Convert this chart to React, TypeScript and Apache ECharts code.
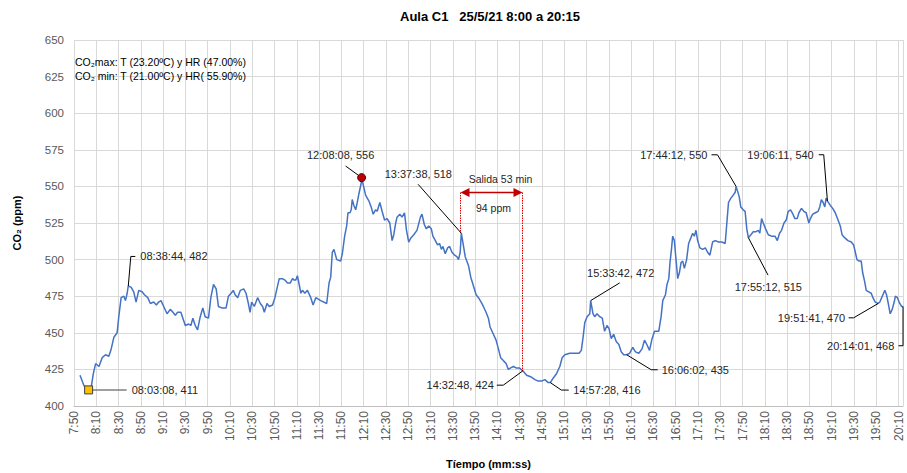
import React, { useEffect, useRef } from "react";
import * as echarts from "echarts";

// Minutes elapsed since 7:50 (axis origin) and CO2 readings (ppm)
const elapsedMin = [
  5.4, 8.9, 11.3, 13.1, 15.5, 17.3, 19.4, 22.4, 25.3, 28.3, 31.3, 33.4, 35.8, 38.7, 40.2, 42.3, 44.7, 46.2, 47.7, 48.7,
  51.3, 53.6, 55.7, 58.1, 61.1, 63.2, 66.2, 68.5, 71.5, 73.9, 76.0, 78.1, 80.5, 83.5, 86.4, 88.8, 90.9, 93.0, 95.9, 97.7,
  99.9, 102.8, 104.9, 106.7, 108.8, 110.9, 113.3, 115.6, 117.7, 120.7, 122.8, 125.2, 127.6, 129.6, 132.6, 136.5, 138.6, 141.0, 143.0, 144.6,
  146.9, 149.3, 152.3, 154.4, 156.5, 158.0, 159.4, 161.8, 164.8, 167.2, 169.3, 170.8, 173.2, 175.2, 178.2, 180.3, 182.1, 184.2, 187.1, 189.3,
  191.6, 194.0, 196.1, 197.6, 199.1, 200.5, 202.1, 203.6, 205.0, 207.2, 209.5, 212.5, 214.6, 217.0, 221.4, 226.8, 228.9, 230.4, 231.8, 233.3,
  235.8, 239.3, 240.8, 242.9, 244.7, 245.9, 247.7, 248.8, 249.7, 251.2, 252.8, 254.2, 255.7, 257.7, 258.1, 260.2, 261.7, 264.7, 266.7, 268.5,
  270.6, 272.1, 274.5, 276.5, 278.7, 281.0, 283.4, 285.5, 287.0, 288.5, 289.9, 292.4, 294.4, 296.6, 298.4, 300.4, 302.5, 304.9, 307.8, 310.9,
  312.3, 314.4, 316.2, 318.3, 320.7, 322.1, 324.3, 326.3, 328.1, 329.7, 331.1, 333.2, 335.3, 337.1, 339.2, 341.6, 343.6, 345.1, 346.6, 347.6,
  349.6, 351.1, 354.0, 356.1, 358.5, 360.9, 363.0, 365.4, 367.4, 369.8, 371.9, 373.4, 376.4, 378.8, 380.9, 382.9, 385.3, 387.8, 389.8, 391.9,
  394.3, 396.7, 399.6, 402.8, 406.2, 409.8, 413.7, 416.6, 419.6, 422.6, 425.6, 427.5, 430.0, 433.0, 436.0, 438.1, 440.5, 444.9, 449.4, 453.3,
  455.3, 456.9, 458.4, 460.5, 462.9, 463.7, 465.8, 467.3, 469.4, 471.8, 474.1, 476.2, 478.3, 480.1, 482.2, 484.3, 486.6, 489.0, 491.1, 493.3,
  496.0, 498.6, 501.5, 503.9, 506.9, 509.8, 512.0, 514.1, 516.5, 518.8, 521.0, 524.8, 526.9, 528.4, 530.8, 532.2, 533.8, 534.9, 536.2, 537.3,
  538.8, 540.3, 541.8, 543.3, 544.8, 546.3, 547.8, 549.8, 551.6, 553.7, 555.2, 556.7, 558.2, 559.7, 561.7, 564.2, 566.6, 568.6, 570.7, 573.1,
  575.5, 578.5, 581.4, 584.4, 585.9, 587.4, 589.5, 591.6, 593.4, 594.2, 597.0, 598.4, 600.6, 602.3, 603.8, 605.2, 607.5, 609.6, 611.7, 614.1,
  615.5, 617.1, 618.6, 620.7, 623.1, 626.0, 629.1, 631.2, 633.2, 635.0, 637.2, 639.2, 641.0, 643.1, 645.2, 647.0, 649.1, 650.6, 652.9, 655.0,
  657.1, 659.5, 660.9, 663.0, 665.4, 667.8, 669.3, 670.7, 672.3, 673.8, 675.0, 676.2, 678.8, 680.9, 683.2, 685.7, 687.7, 689.3, 691.6, 694.6,
  697.6, 699.7, 701.2, 702.7, 704.7, 706.5, 707.8, 709.6, 711.0, 713.2, 715.5, 717.0, 719.1, 721.7, 723.2, 725.4, 727.7, 729.2, 730.8, 732.5,
  734.3, 736.1, 737.2, 739.0, 740.5, 742.7, 744.0,
];
const co2ppm = [
  421, 414, 412, 411, 413, 422, 429, 427, 433, 435, 434, 439, 447, 450, 461, 474, 475, 472, 477, 482,
  481, 478, 471, 479, 478, 476, 474, 470, 471, 469, 471, 472, 468, 463, 466, 464, 462, 464, 464, 460,
  455, 456, 455, 460, 455, 452, 461, 467, 461, 460, 474, 483, 480, 468, 467, 467, 475, 477, 479, 476,
  474, 479, 480, 477, 470, 464, 471, 468, 474, 470, 468, 464, 470, 468, 469, 474, 480, 487, 487, 486,
  484, 484, 487, 486, 486, 489, 483, 477, 479, 477, 479, 474, 469, 474, 472, 470, 484, 488, 505, 507,
  500, 499, 504, 516, 523, 532, 532, 534, 541, 537, 534, 539, 545, 552, 556, 549, 544, 540, 536, 531,
  534, 533, 539, 533, 527, 528, 525, 513, 517, 524, 529, 531, 529, 532, 520, 512, 515, 517, 520, 529,
  531, 524, 521, 523, 521, 516, 513, 510, 511, 507, 509, 504, 508, 509, 505, 503, 502, 500, 505, 518,
  509, 502, 496, 488, 482, 476, 474, 471, 468, 464, 460, 454, 449, 445, 439, 433, 431, 429, 425, 426,
  427, 426, 426, 424, 421, 420, 418, 417, 417, 418, 416, 416, 419, 422, 427, 433, 435, 436, 436, 436,
  438, 447, 457, 461, 463, 472, 463, 461, 463, 461, 460, 451, 455, 453, 446, 449, 444, 442, 437, 435,
  435, 436, 440, 437, 436, 439, 445, 442, 438, 446, 451, 451, 461, 472, 476, 483, 487, 498, 507, 516,
  513, 500, 487, 491, 498, 499, 494, 500, 511, 515, 518, 516, 520, 513, 508, 507, 508, 505, 503, 512,
  513, 512, 512, 511, 525, 539, 542, 544, 546, 550, 543, 536, 534, 533, 521, 515, 517, 519, 519, 520,
  518, 528, 525, 521, 517, 516, 516, 513, 518, 520, 525, 527, 533, 534, 531, 528, 528, 532, 535, 533,
  532, 525, 528, 531, 532, 533, 536, 541, 539, 536, 542, 540, 537, 535, 532, 527, 523, 517, 515, 513,
  512, 510, 505, 500, 499, 499, 491, 485, 479, 478, 477, 474, 471, 470, 471, 475, 479, 476, 470, 463,
  466, 471, 475, 474, 471, 468, 468,
];

// Axis ticks: every 20 minutes starting at 7:50
const axisStartClockMin = 7 * 60 + 50;
const axisEndElapsed = 744;
const tickStepMin = 20;
const yTicks = { min: 400, max: 650, step: 25 };

// Annotated readings
const annotationTimes = [
  "08:03:08", "08:38:44", "12:08:08", "13:37:38", "14:32:48", "14:57:28", "15:33:42",
  "16:06:02", "17:44:12", "17:55:12", "19:06:11", "19:51:41", "20:14:01",
];
const annotationValues = [411, 482, 556, 518, 424, 416, 472, 435, 550, 515, 540, 470, 468];

const titleText = "Aula C1\u00a0\u00a0\u00a025/5/21 8:00 a 20:15";
const infoLines = ["CO₂max: T (23.20ºC) y HR (47.00%)", "CO₂ min: T (21.00ºC) y HR( 55.90%)"];
const exitLabel = "Salida 53 min";
const exitDelta = "94 ppm";

// Leader layouts (pixel offsets from the annotated point), text anchor and alignment
const leaderLayouts: { pts: number[][]; tx: number; ty: number; align: string }[] = [
  { pts: [[0, 0], [38, 0]], tx: 43, ty: 0, align: "left" },
  { pts: [[0, 0], [2.5, -29.5], [7, -29.5]], tx: 12, ty: -29.5, align: "left" },
  { pts: [[0, 0], [-16, -11.6]], tx: -21, ty: -23, align: "center" },
  { pts: [[0, 0], [-43.3, -49]], tx: -43, ty: -59, align: "center" },
  { pts: [[0, 0], [-19.5, 14.3], [-26, 14.3]], tx: -29, ty: 14.3, align: "right" },
  { pts: [[0, 0], [11, 7.5], [18.4, 7.5]], tx: 23, ty: 7.5, align: "left" },
  { pts: [[0, 0], [29, -17.7]], tx: 30, ty: -28, align: "center" },
  { pts: [[0, 0], [24.5, 15], [31, 15]], tx: 35, ty: 15.5, align: "left" },
  { pts: [[0, 0], [-18.6, -31.6], [-24.6, -31.6]], tx: -28.6, ty: -31.6, align: "right" },
  { pts: [[0, 0], [19.7, 37.5]], tx: 20, ty: 49.8, align: "center" },
  { pts: [[0, 0], [-3.7, -46.3], [-8.7, -46.3]], tx: -13.7, ty: -46.3, align: "right" },
  { pts: [[0, 0], [-24.5, 14.3], [-29.5, 14.3]], tx: -33, ty: 14.3, align: "right" },
  { pts: [[0, 0], [0, 39.3], [-4.5, 39.3]], tx: -8.7, ty: 39.3, align: "right" },
];

const FONT = "'Liberation Sans', Arial, sans-serif";
const LINE_BLUE = "#4472C4";
const GRID_GRAY = "#d9d9d9";
const LABEL_GRAY = "#595959";
const DARK_RED = "#C00000";
const BRIGHT_RED = "#E00000";

function clockToElapsed(s: string): number {
  const [h, m, sec] = s.split(":").map(Number);
  return h * 60 + m + sec / 60 - axisStartClockMin;
}

function formatTick(v: number): string {
  const r = Math.round(v);
  if (r % tickStepMin !== 0) return "";
  const m = r + axisStartClockMin;
  return `${Math.floor(m / 60)}:${String(m % 60).padStart(2, "0")}`;
}

export default function App() {
  const ref = useRef<HTMLDivElement>(null);
  useEffect(() => {
    if (!ref.current) return;
    const chart = echarts.init(ref.current, null, { renderer: "svg" });
    const seriesData = elapsedMin.map((t, i) => [t, co2ppm[i]]);
    chart.setOption({
      animation: false,
      backgroundColor: "#ffffff",
      title: {
        text: titleText,
        left: 490,
        top: 10,
        textAlign: "center",
        padding: 0,
        textStyle: { fontFamily: FONT, fontSize: 13, fontWeight: "bold", color: "#000" },
      },
      grid: { left: 74, top: 40, width: 829, height: 366, containLabel: false, outerBoundsMode: "none" },
      xAxis: {
        type: "value",
        min: 0,
        max: axisEndElapsed,
        interval: tickStepMin,
        name: "Tíempo (mm:ss)",
        nameLocation: "middle",
        nameGap: 52,
        nameMoveOverlap: false,
        nameTextStyle: { fontFamily: FONT, fontSize: 11, fontWeight: "bold", color: "#000" },
        axisLine: { show: true, lineStyle: { color: "#bfbfbf", width: 1 } },
        axisTick: { show: false },
        splitLine: { show: true, lineStyle: { color: GRID_GRAY, width: 1 } },
        axisLabel: {
          rotate: 90,
          margin: 5,
          formatter: formatTick,
          color: LABEL_GRAY,
          fontFamily: FONT,
          fontSize: 12,
          lineHeight: 10,
          showMaxLabel: false,
        },
      },
      yAxis: {
        type: "value",
        min: yTicks.min,
        max: yTicks.max,
        interval: yTicks.step,
        name: "CO₂ (ppm)",
        nameLocation: "middle",
        nameGap: 52,
        nameMoveOverlap: false,
        nameTextStyle: { fontFamily: FONT, fontSize: 11, fontWeight: "bold", color: "#000" },
        axisLine: { show: false },
        axisTick: { show: false },
        splitLine: { show: true, lineStyle: { color: GRID_GRAY, width: 1 } },
        axisLabel: { margin: 10, color: LABEL_GRAY, fontFamily: FONT, fontSize: 11.5 },
      },
      series: [
        {
          type: "line",
          data: seriesData,
          showSymbol: false,
          symbol: "none",
          lineStyle: { color: LINE_BLUE, width: 1.5 },
          clip: false,
        },
      ],
    });

    const toPx = (t: number, v: number) =>
      chart.convertToPixel({ xAxisIndex: 0, yAxisIndex: 0 }, [t, v]) as number[];

    const els: any[] = [];
    const pts = annotationTimes.map((s, i) => toPx(clockToElapsed(s), annotationValues[i]));

    annotationTimes.forEach((s, i) => {
      const [px, py] = pts[i];
      const lay = leaderLayouts[i];
      const isFirst = i === 0;
      els.push({
        type: "polyline",
        shape: { points: lay.pts.map(([dx, dy]) => [px + dx, py + dy]) },
        style: { stroke: isFirst ? "#7f7f7f" : "#000", lineWidth: isFirst ? 1.5 : 1, fill: null },
        z: 10,
      });
      els.push({
        type: "text",
        x: px + lay.tx,
        y: py + lay.ty,
        style: {
          text: `${s}, ${annotationValues[i]}`,
          fill: "#262626",
          fontFamily: FONT,
          fontSize: 11,
          align: lay.align,
          verticalAlign: "middle",
        },
        z: 10,
      });
    });

    // min marker (square) and max marker (dot)
    const [mx, my] = pts[0];
    els.push({
      type: "rect",
      shape: { x: mx - 4, y: my - 4, width: 8, height: 8 },
      style: { fill: "#FFC000", stroke: "#3f3f3f", lineWidth: 1 },
      z: 12,
    });
    const [Mx, My] = pts[2];
    els.push({
      type: "circle",
      shape: { cx: Mx, cy: My, r: 4 },
      style: { fill: DARK_RED, stroke: "#4d0000", lineWidth: 1 },
      z: 12,
    });

    // Exit interval bracket between 13:37:38 and 14:32:48
    const [lx0, ly] = pts[3];
    const [rx0, ry] = pts[4];
    const lx = Math.round(lx0 - 1.5) + 0.5;
    const rx = Math.round(rx0 - 0.5) + 0.5;
    const ay = Math.round(ly - 41) + 0.5;
    els.push({
      type: "line",
      shape: { x1: lx, y1: ay, x2: lx, y2: ly },
      style: { stroke: BRIGHT_RED, lineWidth: 1, lineDash: [1.5, 1] },
      z: 9,
    });
    els.push({
      type: "line",
      shape: { x1: rx, y1: ay, x2: rx, y2: ry },
      style: { stroke: BRIGHT_RED, lineWidth: 1, lineDash: [1.5, 1] },
      z: 9,
    });
    els.push({
      type: "line",
      shape: { x1: lx + 6, y1: ay, x2: rx - 7, y2: ay },
      style: { stroke: DARK_RED, lineWidth: 1.5 },
      z: 11,
    });
    els.push({
      type: "polygon",
      shape: { points: [[lx, ay], [lx + 9, ay - 4.5], [lx + 9, ay + 4.5]] },
      style: { fill: DARK_RED },
      z: 11,
    });
    els.push({
      type: "polygon",
      shape: { points: [[rx, ay], [rx - 9, ay - 4.5], [rx - 9, ay + 4.5]] },
      style: { fill: DARK_RED },
      z: 11,
    });
    els.push({
      type: "text",
      x: lx + 40,
      y: ay - 14,
      style: { text: exitLabel, fill: "#262626", fontFamily: FONT, fontSize: 10.5, align: "center", verticalAlign: "middle" },
      z: 11,
    });
    els.push({
      type: "text",
      x: lx + 33,
      y: ay + 15,
      style: { text: exitDelta, fill: "#262626", fontFamily: FONT, fontSize: 10.5, align: "center", verticalAlign: "middle" },
      z: 11,
    });

    // Info text in upper-left
    infoLines.forEach((line, i) => {
      els.push({
        type: "text",
        x: 75,
        y: 62 + i * 14,
        style: { text: line, fill: "#000", fontFamily: FONT, fontSize: 10.5, align: "left", verticalAlign: "middle" },
        z: 11,
      });
    });

    chart.setOption({ graphic: els });

    return () => chart.dispose();
  }, []);

  return (
    <div
      ref={ref}
      style={{ position: "fixed", left: 0, top: 0, width: 907, height: 473, background: "#fff" }}
    />
  );
}
